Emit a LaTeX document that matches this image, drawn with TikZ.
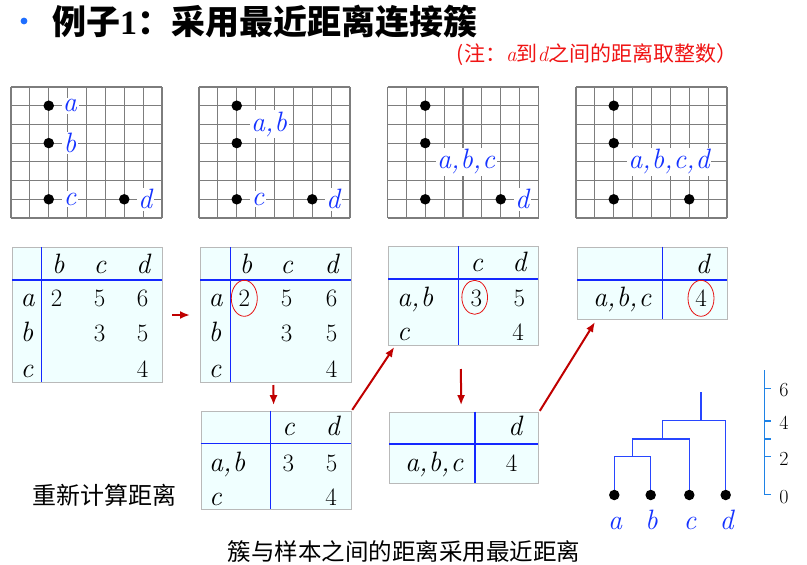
\documentclass[tikz,border=0pt]{standalone}
\usepackage{fontspec}
\usetikzlibrary{shapes.geometric,arrows.meta}
\newfontfamily\cjk{Noto Sans CJK SC}
\newfontfamily\tnr{Liberation Serif}
\definecolor{gridc}{RGB}{125,125,125}
\definecolor{tblfill}{RGB}{240,255,255}
\definecolor{tbldraw}{RGB}{185,185,185}
\definecolor{tblline}{RGB}{20,40,255}
\definecolor{lblue}{RGB}{20,50,255}
\definecolor{arrred}{RGB}{192,0,0}
\definecolor{ellred}{RGB}{230,20,20}
\definecolor{axisc}{RGB}{30,130,230}
\definecolor{dendc}{RGB}{40,70,255}
\definecolor{bulletc}{RGB}{30,110,255}
\definecolor{notered}{RGB}{240,20,20}
\newcommand\drawgridat[1]{%
  \foreach \i in {0,...,8} {\draw[gridline] ({#1+\i*18.875},87) -- ({#1+\i*18.875},218);}
  \foreach \j in {0,...,7} {\draw[gridline] (#1,{87+\j*18.714}) -- ({#1+151},{87+\j*18.714});}
}
\newcommand\vv[1]{{\fontsize{28}{28}\selectfont\itshape #1}}
\newcommand\cm{,\kern1pt}
\begin{document}
\begin{tikzpicture}[x=1pt,y=-1pt,
  gridline/.style={draw=gridc, line width=1.1pt, line cap=square},
  gdot/.style={circle, fill=black, inner sep=0pt, minimum size=10.5pt},
  glabel/.style={fill=white, inner sep=1.5pt, text=lblue},
  tbl/.style={draw=tbldraw, fill=tblfill, line width=1pt, inner sep=0pt, anchor=north west},
  tline/.style={draw=tblline, line width=1.2pt},
  cell/.style={anchor=base, inner sep=0pt, font=\fontsize{25}{25}\selectfont},
  rowl/.style={anchor=base west, inner sep=0pt},
  circ/.style={draw=ellred, ellipse, line width=0.8pt, minimum width=26pt, minimum height=36pt, inner sep=0pt},
  arr/.style={draw=arrred, line width=2pt, -{Latex[length=10pt,width=8pt]}},
  dline/.style={draw=dendc, line width=1.3pt},
  axl/.style={draw=axisc, line width=1.5pt},
  axlab/.style={inner sep=0pt, font=\fontsize{20}{20}\selectfont},
  dlab/.style={anchor=base, inner sep=0pt, text=lblue},
]
\useasboundingbox (0,0) rectangle (807,565);
\fill[white] (0,0) rectangle (807,565);

% title
\fill[bulletc] (24,21) circle (3.4pt);
\node[anchor=west, inner sep=0pt, font=\fontsize{34}{34}\selectfont] (title) at (52,22)
  {{\cjk\bfseries 例子}{\tnr\bfseries 1}{\cjk\bfseries ：采用最近距离连接簇}};
\node[anchor=center, inner sep=0pt, text=notered, font=\fontsize{21}{21}\selectfont] (note) at (597,55)
  {{\cjk (注：}{\itshape a}{\cjk 到}{\itshape d}{\cjk 之间的距离取整数）}};

% grids
\drawgridat{11}
\drawgridat{199}
\drawgridat{387.5}
\drawgridat{576}

% grid 1
\node[gdot] (g1a) at (48.75,105.7) {};
\node[gdot] (g1b) at (48.75,143.1) {};
\node[gdot] (g1c) at (48.75,199.3) {};
\node[gdot] (g1d) at (124.25,199.3) {};
\node[glabel] (l1a) at (70,105.7) {\vv{a}};
\node[glabel] (l1b) at (70,143.1) {\vv{b}};
\node[glabel] (l1c) at (70,199.3) {\vv{c}};
\node[glabel] (l1d) at (145,199.3) {\vv{d}};
% grid 2
\node[gdot] (g2a) at (236.75,105.7) {};
\node[gdot] (g2b) at (236.75,143.1) {};
\node[gdot] (g2c) at (236.75,199.3) {};
\node[gdot] (g2d) at (312.25,199.3) {};
\node[glabel] (l2ab) at (269,124.4) {\vv{a\cm b}};
\node[glabel] (l2c) at (258,199.3) {\vv{c}};
\node[glabel] (l2d) at (333,199.3) {\vv{d}};
% grid 3
\node[gdot] (g3a) at (425.25,105.7) {};
\node[gdot] (g3b) at (425.25,143.1) {};
\node[gdot] (g3c) at (425.25,199.3) {};
\node[gdot] (g3d) at (500.75,199.3) {};
\node[glabel] (l3abc) at (466,161.9) {\vv{a\cm b\cm c}};
\node[glabel] (l3d) at (522,199.3) {\vv{d}};
% grid 4
\node[gdot] (g4a) at (613.75,105.7) {};
\node[gdot] (g4b) at (613.75,143.1) {};
\node[gdot] (g4c) at (613.75,199.3) {};
\node[gdot] (g4d) at (689.25,199.3) {};
\node[glabel] (l4abcd) at (669,161.9) {\vv{a\cm b\cm c\cm d}};

% table 1
\node[tbl, minimum width=150pt, minimum height=135pt] (t1) at (12,247) {};
\draw[tline] (41.7,247) -- (41.7,382);
\draw[tline] (12,280) -- (162,280);
\node[cell] (t1hb) at (58.3,273.3) {\vv{b}};
\node[cell] (t1hc) at (100,273.3) {\vv{c}};
\node[cell] (t1hd) at (143,273.3) {\vv{d}};
\node[rowl] (t1ra) at (20.5,306.7) {\vv{a}};
\node[cell] (t1ab) at (56.7,306.7) {2};
\node[cell] (t1ac) at (99.5,306.7) {5};
\node[cell] (t1ad) at (142.7,306.7) {6};
\node[rowl] (t1rb) at (20.5,341.7) {\vv{b}};
\node[cell] (t1bc) at (99.5,341.7) {3};
\node[cell] (t1bd) at (142.7,341.7) {5};
\node[rowl] (t1rc) at (20.5,377.3) {\vv{c}};
\node[cell] (t1cd) at (142.7,377.3) {4};

% table 2
\node[tbl, minimum width=150.7pt, minimum height=135pt] (t2) at (200,247) {};
\draw[tline] (230.3,247) -- (230.3,382);
\draw[tline] (200,280) -- (350.7,280);
\node[cell] (t2hb) at (246,273.3) {\vv{b}};
\node[cell] (t2hc) at (286.7,273.3) {\vv{c}};
\node[cell] (t2hd) at (331.7,273.3) {\vv{d}};
\node[rowl] (t2ra) at (208.5,306.7) {\vv{a}};
\node[cell] (t2ab) at (244.3,306.7) {2};
\node[cell] (t2ac) at (286.7,306.7) {5};
\node[cell] (t2ad) at (331.7,306.7) {6};
\node[rowl] (t2rb) at (208.5,341.7) {\vv{b}};
\node[cell] (t2bc) at (286.7,341.7) {3};
\node[cell] (t2bd) at (331.7,341.7) {5};
\node[rowl] (t2rc) at (208.5,377.3) {\vv{c}};
\node[cell] (t2cd) at (331.7,377.3) {4};
\node[circ] (e1) at (244.3,298.3) {};

% table 3
\node[tbl, minimum width=150pt, minimum height=99pt] (t3) at (388.3,246) {};
\draw[tline] (458.3,246) -- (458.3,345);
\draw[tline] (388.3,279) -- (538.3,279);
\node[cell] (t3hc) at (476.7,271.7) {\vv{c}};
\node[cell] (t3hd) at (519.3,271.7) {\vv{d}};
\node[rowl] (t3rab) at (397,306) {\vv{a\cm b}};
\node[cell] (t3abc) at (476.3,306) {3};
\node[cell] (t3abd) at (519.3,306) {5};
\node[rowl] (t3rc) at (397,340) {\vv{c}};
\node[cell] (t3cd) at (518,340) {4};
\node[circ, minimum width=25.7pt, minimum height=34pt] (e2) at (474.7,297.3) {};

% table 4
\node[tbl, minimum width=149.4pt, minimum height=72.6pt] (t4) at (577.3,246.7) {};
\draw[tline] (662.7,246.7) -- (662.7,319.3);
\draw[tline] (577.3,280) -- (726.7,280);
\node[cell] (t4hd) at (702.7,273.3) {\vv{d}};
\node[rowl] (t4rabc) at (593,306.7) {\vv{a\cm b\cm c}};
\node[cell] (t4abcd) at (701,306.7) {4};
\node[circ] (e3) at (701,298.3) {};

% table 5
\node[tbl, minimum width=150pt, minimum height=98.3pt] (t5) at (200.7,410.7) {};
\draw[tline] (270.3,410.7) -- (270.3,509);
\draw[tline] (200.7,443.3) -- (350.7,443.3);
\node[cell] (t5hc) at (288.3,435) {\vv{c}};
\node[cell] (t5hd) at (332.7,435) {\vv{d}};
\node[rowl] (t5rab) at (209,471.7) {\vv{a\cm b}};
\node[cell] (t5abc) at (288.3,471.7) {3};
\node[cell] (t5abd) at (331.7,471.7) {5};
\node[rowl] (t5rc) at (209,505) {\vv{c}};
\node[cell] (t5cd) at (331,505) {4};

% table 6
\node[tbl, minimum width=149.3pt, minimum height=71pt] (t6) at (389,411.7) {};
\draw[tline] (475,411.7) -- (475,482.7);
\draw[tline] (389,444) -- (538.3,444);
\node[cell] (t6hd) at (515,435) {\vv{d}};
\node[rowl] (t6rabc) at (405,471.7) {\vv{a\cm b\cm c}};
\node[cell] (t6abcd) at (511.7,471.7) {4};

% arrows
\draw[arr, shorten <=9pt, shorten >=10pt] (t1.east) -- (t2.west);
\draw[arr, shorten <=2pt, shorten >=5.5pt] ([xshift=-2.5pt]t2.south) -- ([xshift=-2.5pt]t5.north);
\draw[arr, shorten <=1pt] (t5.north east) -- ([xshift=6pt,yshift=-1pt]t3.south west);
\draw[arr, shorten <=23pt, shorten >=6.5pt] ([xshift=-3pt]t3.south) -- ([xshift=-3pt]t6.north);
\draw[arr, shorten <=1pt] (t6.north east) -- ([xshift=17.7pt,yshift=-1.7pt]t4.south west);

% side texts
\node[anchor=west, inner sep=0pt, font=\fontsize{24}{24}\selectfont\cjk] (recalc) at (32,495) {重新计算距离};
\node[anchor=center, inner sep=0pt, font=\fontsize{23.5}{24}\selectfont\cjk] (caption) at (404,551.5) {簇与样本之间的距离采用最近距离};

% dendrogram
\draw[dline] (614.3,495) -- (614.3,456.7) -- (650.7,456.7) -- (650.7,495);
\draw[dline] (632.5,456.7) -- (632.5,439) -- (689.3,439) -- (689.3,495);
\draw[dline] (662.7,439) -- (662.7,420.7) -- (725.7,420.7) -- (725.7,495);
\draw[dline] (701,420.7) -- (701,391.7);
\node[gdot] (pa) at (614.3,495) {};
\node[gdot] (pb) at (650.7,495) {};
\node[gdot] (pc) at (689.3,495) {};
\node[gdot] (pd) at (725.7,495) {};
\node[dlab] (na) at (615,529.5) {\vv{a}};
\node[dlab] (nb) at (651.5,529.5) {\vv{b}};
\node[dlab] (nc) at (690,529.5) {\vv{c}};
\node[dlab] (nd) at (726.5,529.5) {\vv{d}};

% axis
\draw[axl] (764.3,370) -- (764.3,494.3) -- (770.5,494.3);
\foreach \yy in {388.3,421,439,456.7} {\draw[axl] (764.3,\yy) -- (770.5,\yy);}
\node[axlab] (ax6) at (784,390.3) {6};
\node[axlab] (ax4) at (784,423) {4};
\node[axlab] (ax2) at (784,458.7) {2};
\node[axlab] (ax0) at (784,497.5) {0};
\end{tikzpicture}
\end{document}
